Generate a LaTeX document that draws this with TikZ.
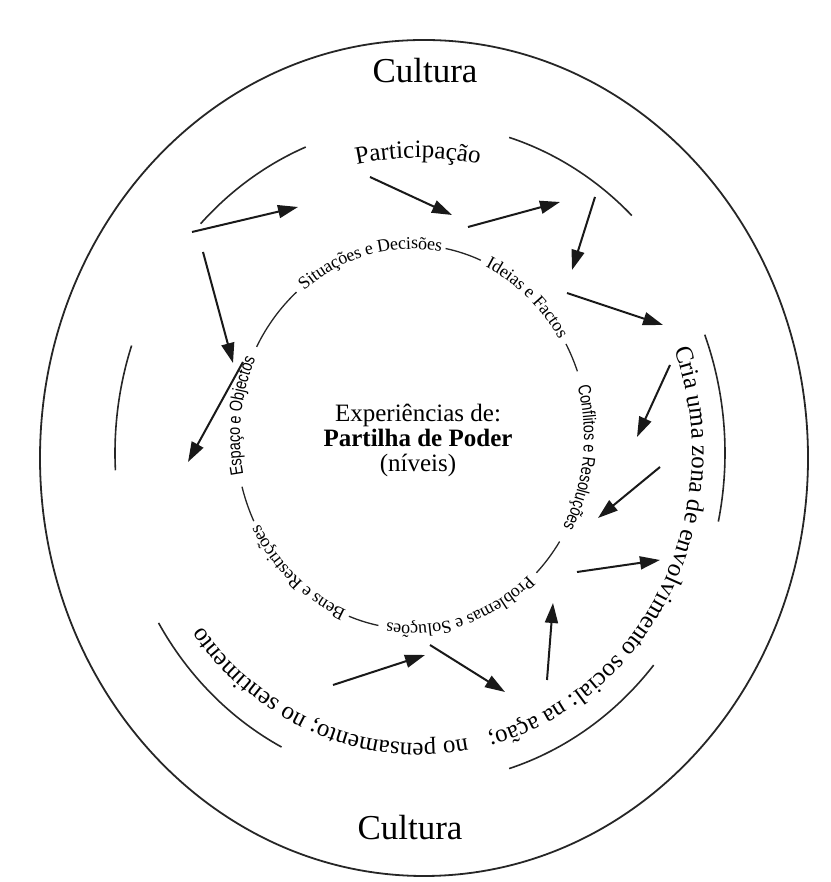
\documentclass[tikz,border=0pt]{standalone}
\usepackage{fontspec}
\setmainfont{Liberation Serif}
\newfontfamily\narrowsans[FakeStretch=0.8]{Liberation Sans}
\usetikzlibrary{arrows.meta, decorations.text}
\newcommand\bigfont{\fontsize{35}{40}\selectfont}
\newcommand\ringfont{\fontsize{25}{28}\selectfont}
\newcommand\hubfont{\fontsize{25}{25}\selectfont}
\newcommand\labserif{\fontsize{18}{20}\selectfont}
\newcommand\labsans{\narrowsans\fontsize{18}{20}\selectfont}

\begin{document}
\begin{tikzpicture}[
  x=1pt, y=1pt,
  outer/.style={draw=black!85, line width=1.8pt},
  ring/.style={draw=black!85, line width=1.6pt},
  hub/.style={draw=black!85, line width=1.3pt},
  flow/.style={-{Triangle[length=20pt, width=13pt]}, line width=2pt, black!90},
  ringtext/.style={decorate, decoration={text along path,
                   text={|\ringfont|#1}}},
  midtext/.style={decorate, decoration={text along path, text align=center,
                  text={|\ringfont|#1}}},
  labtext/.style={decorate, decoration={text along path, text align=center,
                  raise=-4pt, text={|\labserif|#1}}},
  labsans/.style={decorate, decoration={text along path, text align=center,
                  raise=-4pt, text={|\labsans|#1}}},
]
\useasboundingbox (0,0) rectangle (830,882);

% outer border: culture
\draw[outer] (424,424) ellipse [x radius=384, y radius=418];
\node[anchor=base, font=\bigfont] (culturatop) at (425,799) {Cultura};
\node[anchor=base, font=\bigfont] (culturabot) at (410,42) {Cultura};

% middle ring: broken arcs and the text running round them
\begin{scope}[shift={(420,429)}]
  \foreach \a/\b in {136/112, 73/46, 21/-12, -40/-73, 243/211, 183/161}
    \draw[ring] (\a:305 and 330) arc[start angle=\a, end angle=\b,
                                     x radius=305, y radius=330];
  \path[ringtext={Cria uma zona de envolvimento social: na ação;}]
    (21:272 and 290) arc[start angle=21, end angle=-95,
                         x radius=272, y radius=290];
  \path[ringtext={no pensamento; no sentimento}]
    (-80:272 and 290) arc[start angle=-80, end angle=-170,
                          x radius=272, y radius=290];
\end{scope}
\path[midtext={Participação}]
  ([shift={(418,424)}]110:300) arc[start angle=110, end angle=70, radius=300];

% inner ring: levels of power sharing
\begin{scope}[shift={(412,445)}]
  \foreach \a/\b in {79/67, 29/20, -33/-45, -101/-111, -154/-165, 152/131}
    \draw[hub] (\a:176 and 192) arc[start angle=\a, end angle=\b,
                                    x radius=176, y radius=192];
  \path[labtext={Situações e Decisões}]
    (130:176 and 192) arc[start angle=130, end angle=79, x radius=176, y radius=192];
  \path[labtext={Ideias e Factos}]
    (66:176 and 192) arc[start angle=66, end angle=30, x radius=176, y radius=192];
  \path[labsans={Conflitos e Resoluções}]
    (19:176 and 192) arc[start angle=19, end angle=-32, x radius=176, y radius=192];
  \path[labtext={Problemas e Soluções}]
    (-46:176 and 192) arc[start angle=-46, end angle=-100, x radius=176, y radius=192];
  \path[labtext={Bens e Restrições}]
    (-112:176 and 192) arc[start angle=-112, end angle=-153, x radius=176, y radius=192];
  \path[labsans={Espaço e Objectos}]
    (-166:176 and 192) arc[start angle=-166, end angle=-207, x radius=176, y radius=192];
\end{scope}
\node[align=center, font=\hubfont] (centre) at (418,442)
  {Experiências de:\\\textbf{Partilha de Poder}\\(níveis)};

% arrows between the rings
\foreach \i/\sx/\sy/\ex/\ey in {1/192/650/298/675, 2/370/705/452/667,
    3/468/655/560/680, 4/595/685/572/612, 5/567/589/663/557,
    6/670/517/637/445, 7/660/415/598/364, 8/577/310/660/322,
    9/547/202/553/279, 10/430/237/505/190, 11/333/197/425/227,
    12/203/630/233/519, 13/243/520/188/420} {
  \coordinate (s\i) at (\sx,\sy);
  \coordinate (t\i) at (\ex,\ey);
  \draw[flow] (s\i) -- (t\i);
}
\end{tikzpicture}
\end{document}
